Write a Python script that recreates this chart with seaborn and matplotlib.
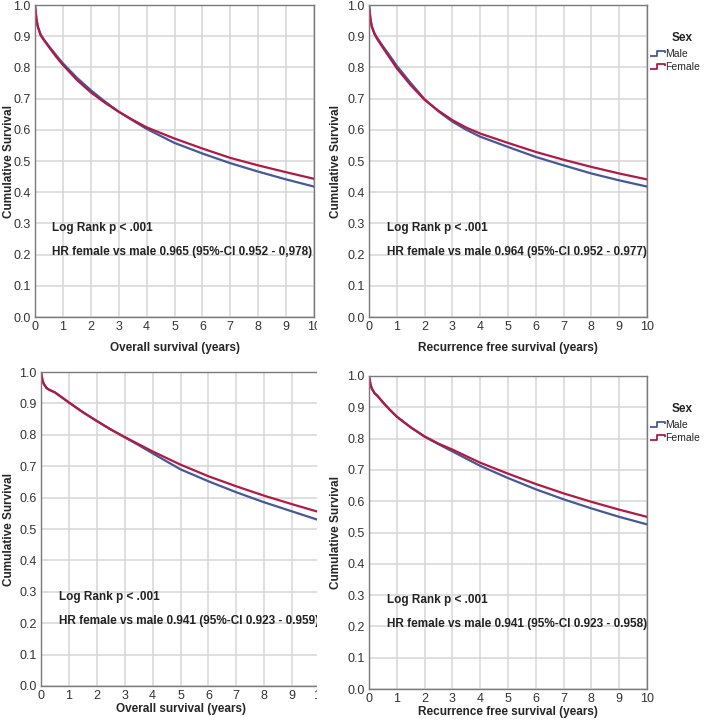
import numpy as np
import pandas as pd
import matplotlib
matplotlib.use("Agg")
import matplotlib.pyplot as plt
from matplotlib.lines import Line2D
from matplotlib.path import Path
from matplotlib.patches import Rectangle
import seaborn as sns

# time points (years)
years = [0, 0.05, 0.1, 0.2, 0.3, 0.5, 0.75, 1, 1.5, 2, 2.5, 3, 3.5, 4, 5, 6, 7, 8, 9, 10]

# top left: overall survival
os1_male = [1.0, 0.957, 0.932, 0.906, 0.892, 0.868, 0.84, 0.813, 0.767, 0.727, 0.691, 0.658, 0.63, 0.603,
            0.558, 0.524, 0.493, 0.466, 0.441, 0.418]
os1_female = [1.0, 0.955, 0.93, 0.903, 0.89, 0.865, 0.835, 0.808, 0.76, 0.72, 0.687, 0.658, 0.632, 0.608,
              0.572, 0.54, 0.51, 0.486, 0.464, 0.443]
# top right: recurrence free survival
rfs1_male = [1.0, 0.957, 0.932, 0.909, 0.894, 0.868, 0.837, 0.805, 0.75, 0.698, 0.659, 0.626, 0.6, 0.578,
             0.545, 0.513, 0.486, 0.46, 0.438, 0.418]
rfs1_female = [1.0, 0.955, 0.93, 0.906, 0.89, 0.863, 0.83, 0.797, 0.743, 0.696, 0.661, 0.631, 0.607, 0.588,
               0.558, 0.529, 0.504, 0.481, 0.46, 0.441]
# bottom left: overall survival
os2_male = [1.0, 0.975, 0.962, 0.949, 0.943, 0.935, 0.919, 0.903, 0.872, 0.844, 0.817, 0.792, 0.767, 0.741,
            0.69, 0.652, 0.617, 0.585, 0.556, 0.527]
os2_female = [1.0, 0.975, 0.962, 0.949, 0.943, 0.935, 0.919, 0.903, 0.872, 0.844, 0.817, 0.793, 0.77, 0.747,
              0.705, 0.668, 0.636, 0.606, 0.579, 0.553]
# bottom right: recurrence free survival
rfs2_male = [1.0, 0.975, 0.96, 0.945, 0.937, 0.916, 0.892, 0.87, 0.836, 0.806, 0.782, 0.759, 0.736, 0.713,
             0.674, 0.638, 0.606, 0.577, 0.55, 0.526]
rfs2_female = [1.0, 0.975, 0.96, 0.945, 0.937, 0.916, 0.892, 0.87, 0.836, 0.807, 0.784, 0.765, 0.744, 0.723,
               0.688, 0.655, 0.625, 0.598, 0.573, 0.55]

xlabels = ["Overall survival (years)", "Recurrence free survival (years)",
           "Overall survival (years)", "Recurrence free survival (years)"]
hr_texts = ["HR female vs male 0.965 (95%-CI 0.952 - 0,978)",
            "HR female vs male 0.964 (95%-CI 0.952 - 0.977)",
            "HR female vs male 0.941 (95%-CI 0.923 - 0.959)",
            "HR female vs male 0.941 (95%-CI 0.923 - 0.958)"]
series = [(os1_male, os1_female), (rfs1_male, rfs1_female),
          (os2_male, os2_female), (rfs2_male, rfs2_female)]

sns.set_theme(style="whitegrid")
plt.rcParams["font.family"] = ["Liberation Sans", "DejaVu Sans"]

palette = {"Male": "#45589a", "Female": "#b11a44"}

W, H = 708, 725
fig = plt.figure(figsize=(W / 100, H / 100), dpi=100)

# axes boxes in pixels: left, top, right, bottom
boxes = [(35, 5, 314, 317), (369, 5, 647, 317), (41, 372, 320, 686), (369, 376, 647, 689)]
text_x = [0.6, 0.63, 0.66, 0.63]
xlabel_pad = [6, 6, 0.5, 0.5]
ylabel_right = [15, 342, 15, 342]

axes = []
for i, (l, t, r, b) in enumerate(boxes):
    ax = fig.add_axes([l / W, 1 - b / H, (r - l) / W, (b - t) / H])
    male, female = series[i]
    df = pd.DataFrame({"years": years * 2, "surv": male + female,
                       "Sex": ["Male"] * len(years) + ["Female"] * len(years)})
    sns.lineplot(data=df, x="years", y="surv", hue="Sex", palette=palette, linewidth=1.6,
                 ax=ax, legend=False)
    ax.set_xlim(0, 10)
    ax.set_ylim(0, 1.0)
    ax.set_xticks(range(11))
    ax.set_yticks(np.arange(0, 1.01, 0.1))
    ax.set_yticklabels([f"{v:.1f}" for v in np.arange(0, 1.01, 0.1)])
    ax.grid(True, color="#d6d6d6", linewidth=1.1)
    ax.tick_params(length=0, pad=3, labelsize=9, colors="#333333")
    for s in ax.spines.values():
        s.set_color("#7a7a7a")
        s.set_linewidth(1.0)
    ax.set_xlabel(xlabels[i], fontsize=8.5, fontweight="bold", labelpad=xlabel_pad[i])
    ax.set_ylabel("Cumulative Survival", fontsize=8.5, fontweight="bold")
    ax.yaxis.set_label_coords((ylabel_right[i] - l) / (r - l), 0.5)
    ax.text(text_x[i], 0.285, "Log Rank p < .001", fontsize=8.5, fontweight="bold", va="center", color="#222222")
    ax.text(text_x[i], 0.207, hr_texts[i], fontsize=8.5, fontweight="bold", va="center", color="#222222")
    axes.append(ax)

# step-shaped legend markers, like the SPSS output
step = Path([(-1, -0.3), (-0.1, -0.3), (-0.1, 0.3), (0.85, 0.3), (0.85, 0.05)])
handles = [Line2D([], [], color=palette[k], linestyle="none", marker=step, markersize=12,
                  markerfacecolor="none", markeredgewidth=1.3) for k in ["Male", "Female"]]
for ytitle in [38, 409]:
    fig.text(682 / W, 1 - ytitle / H, "Sex", ha="center", va="center", fontsize=8.5,
             fontweight="bold", color="#222222")
    fig.legend(handles, ["Male", "Female"], loc="upper left",
               bbox_to_anchor=(652 / W, 1 - (ytitle + 11) / H), frameon=False, fontsize=7.5,
               handlelength=1.2, handletextpad=0.1, labelspacing=0.25, borderaxespad=0,
               borderpad=0)

# the left column is cropped at its right edge in the source
fig.patches.append(Rectangle((316.5 / W, 0), 10 / W, 1, transform=fig.transFigure,
                             facecolor="white", edgecolor="none", zorder=10))

fig.savefig("out.png", dpi=100, facecolor="white")
